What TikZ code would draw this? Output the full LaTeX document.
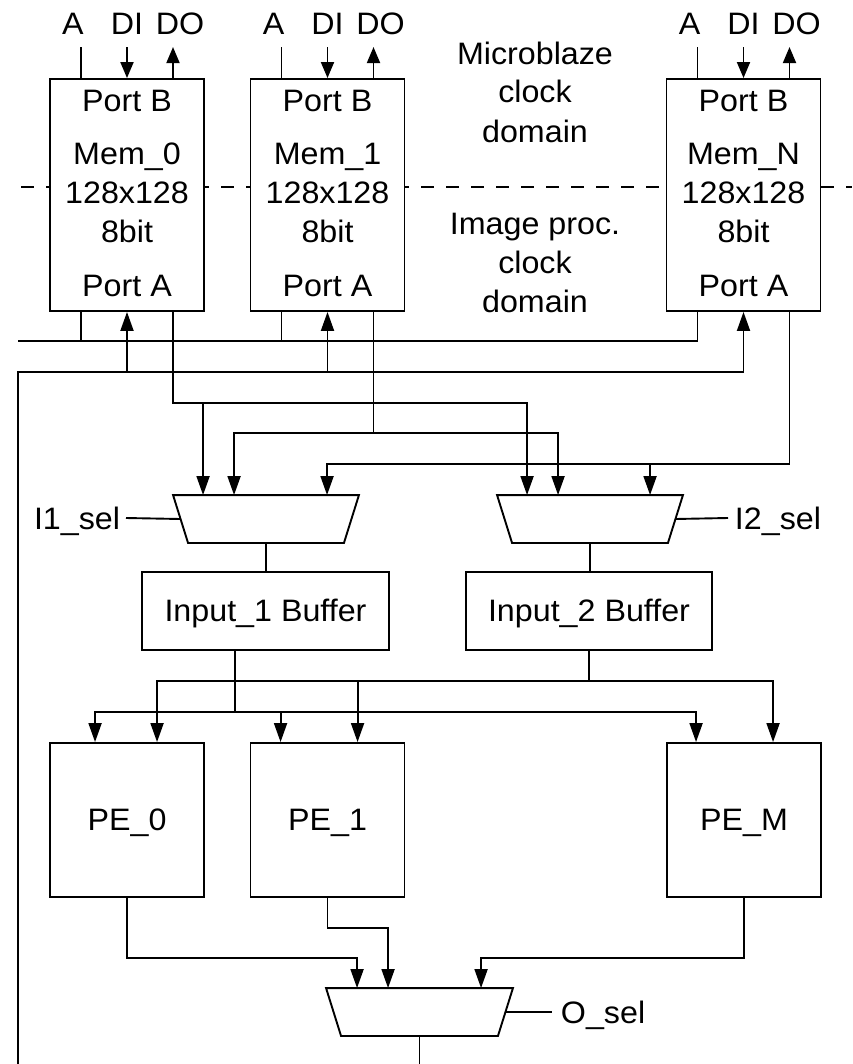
\documentclass[tikz,border=0pt]{standalone}
\usepackage{fontspec}
\setmainfont{Liberation Sans}[FakeStretch=1.04]
\usetikzlibrary{arrows.meta,calc}
\begin{document}
\begin{tikzpicture}[x=1pt,y=-1pt,line width=1.9pt,
  every node/.style={font=\fontsize{31}{37}\selectfont},
  blk/.style={draw,fill=white,inner sep=0pt,line width=1.9pt},
  lbl/.style={inner sep=0pt,anchor=base},
  muxbox/.style={inner sep=0pt,minimum width=184pt,minimum height=46pt},
  arr/.style={-{Triangle[length=19pt,width=13pt]}},
  arrs/.style={-{Triangle[length=16pt,width=13pt]}},
  dashline/.style={dash pattern=on 13pt off 12pt}]
\useasboundingbox (0,0) rectangle (852,1064);

% clock-domain boundary
\coordinate (dashL) at (21,187);
\coordinate (dashR) at (852,187);
\draw[dashline] (dashL) -- (dashR);

% memory blocks
\node[blk,minimum width=154pt,minimum height=232pt] (mem0) at (127,195) {};
\node[blk,minimum width=154pt,minimum height=232pt] (mem1) at (327.5,195) {};
\node[blk,minimum width=154pt,minimum height=232pt] (memN) at (743.5,195) {};

\foreach \m/\t in {mem0/Mem\_0, mem1/Mem\_1, memN/Mem\_N} {
  \node[lbl] (\m-pb) at ($(\m.north)+(0,33)$) {Port B};
  \node[lbl] (\m-name) at ($(\m.north)+(0,86)$) {\t};
  \node[lbl] (\m-size) at ($(\m.north)+(0,125)$) {128x128};
  \node[lbl] (\m-bits) at ($(\m.north)+(0,164)$) {8bit};
  \node[lbl] (\m-pa) at ($(\m.north)+(0,218)$) {Port A};
  \coordinate (\m-At) at ($(\m.north)+(-46,0)$);
  \coordinate (\m-DIt) at (\m.north);
  \coordinate (\m-DOt) at ($(\m.north)+(46,0)$);
  \coordinate (\m-Ab) at ($(\m.south)+(-46,0)$);
  \coordinate (\m-DIb) at (\m.south);
  \coordinate (\m-DOb) at ($(\m.south)+(46,0)$);
  \coordinate (\m-Ae) at ($(\m-At)+(0,-31)$);
  \coordinate (\m-DIe) at ($(\m-DIt)+(0,-31)$);
  \coordinate (\m-DOe) at ($(\m-DOt)+(0,-31)$);
  \node[lbl] (\m-lA) at ($(\m-At)+(-8,-44)$) {A};
  \node[lbl] (\m-lDI) at ($(\m-DIt)+(0,-44)$) {DI};
  \node[lbl] (\m-lDO) at ($(\m-DOt)+(7,-44)$) {DO};
  \draw (\m-Ae) -- (\m-At);
  \draw[arrs] (\m-DIe) -- (\m-DIt);
  \draw[arrs] (\m-DOt) -- (\m-DOe);
}

% domain labels
\node[lbl] (mb1) at (535,65) {Microblaze};
\node[lbl] (mb2) at (535,103) {clock};
\node[lbl] (mb3) at (535,143) {domain};
\node[lbl] (ip1) at (535,235) {Image proc.};
\node[lbl] (ip2) at (535,273) {clock};
\node[lbl] (ip3) at (535,312) {domain};

% bus rails
\coordinate (busA) at (18,341);
\coordinate (busDI) at (18,372);
\coordinate (leftbot) at (18,1064);
\coordinate (y0) at (0,403);
\coordinate (y1) at (0,433);
\coordinate (y2) at (0,464);

\draw (busA) -- (busA -| memN-Ab) -- (memN-Ab);
\draw (mem0-Ab) -- (mem0-Ab |- busA);
\draw (mem1-Ab) -- (mem1-Ab |- busA);
\draw[arr] (leftbot) -- (busDI) -- (busDI -| memN-DIb) -- (memN-DIb);
\draw[arr] (busDI -| mem0-DIb) -- (mem0-DIb);
\draw[arr] (busDI -| mem1-DIb) -- (mem1-DIb);

% input multiplexers
\node[muxbox] (mux1) at (266,519) {};
\node[muxbox] (mux2) at (590,519) {};
\draw (mux1.north west) -- (mux1.north east) -- ($(mux1.south east)+(-15,0)$) -- ($(mux1.south west)+(15,0)$) -- cycle;
\draw (mux2.north west) -- (mux2.north east) -- ($(mux2.south east)+(-15,0)$) -- ($(mux2.south west)+(15,0)$) -- cycle;
\coordinate (m1a) at ($(mux1.north west)+(30,0)$);
\coordinate (m1b) at ($(mux1.north west)+(61,0)$);
\coordinate (m1c) at ($(mux1.north west)+(154,0)$);
\coordinate (m2a) at ($(mux2.north west)+(30,0)$);
\coordinate (m2b) at ($(mux2.north west)+(61,0)$);
\coordinate (m2c) at ($(mux2.north west)+(153,0)$);

% memory outputs to multiplexers
\draw[arr] (mem0-DOb) |- (m2a |- y0) -- (m2a);
\draw[arr] (m1a |- y0) -- (m1a);
\draw[arr] (mem1-DOb) |- (m2b |- y1) -- (m2b);
\draw[arr] (mem1-DOb |- y1) -| (m1b);
\draw[arr] (memN-DOb) |- (m1c |- y2) -- (m1c);
\draw[arr] (m2c |- y2) -- (m2c);

% select lines
\coordinate (mux1L) at ($(mux1.west)+(7.5,0)$);
\coordinate (mux2R) at ($(mux2.east)+(-7.5,0)$);
\coordinate (i1selE) at (126,518);
\coordinate (i2selW) at (728,518);
\node[inner sep=0pt,anchor=base east] (i1sel) at ($(i1selE)+(-5,11)$) {I1\_sel};
\node[inner sep=0pt,anchor=base west] (i2sel) at ($(i2selW)+(6,11)$) {I2\_sel};
\draw (i1selE) -- (mux1L);
\draw (mux2R) -- (i2selW);

% input buffers
\node[blk,minimum width=247pt,minimum height=78pt] (buf1) at (265.5,611) {};
\node[blk,minimum width=246pt,minimum height=78pt] (buf2) at (589,611) {};
\node[lbl] (buf1t) at ($(buf1.center)+(0,10)$) {Input\_1 Buffer};
\node[lbl] (buf2t) at ($(buf2.center)+(0,10)$) {Input\_2 Buffer};
\draw (mux1.south) -- (mux1.south |- buf1.north);
\draw (mux2.south) -- (mux2.south |- buf2.north);

% processing elements
\node[blk,minimum width=154pt,minimum height=154pt] (pe0) at (127,820) {};
\node[blk,minimum width=154pt,minimum height=154pt] (pe1) at (327.5,820) {};
\node[blk,minimum width=154pt,minimum height=154pt] (peM) at (744,820) {};
\node[lbl] (pe0t) at ($(pe0.center)+(0,10)$) {PE\_0};
\node[lbl] (pe1t) at ($(pe1.center)+(0,10)$) {PE\_1};
\node[lbl] (peMt) at ($(peM.center)+(0,10)$) {PE\_M};

\coordinate (p0a) at ($(pe0.north west)+(46,0)$);
\coordinate (p0b) at ($(pe0.north west)+(108,0)$);
\coordinate (p1a) at ($(pe1.north west)+(31,0)$);
\coordinate (p1b) at ($(pe1.north west)+(108,0)$);
\coordinate (pMa) at ($(peM.north west)+(30,0)$);
\coordinate (pMb) at ($(peM.north west)+(107,0)$);
\coordinate (b1o) at ($(buf1.south)+(-30.5,0)$);
\coordinate (yb1) at (0,712);
\coordinate (yb2) at (0,681);

\draw[arr] (b1o) |- (p0a |- yb1) -- (p0a);
\draw[arr] (b1o |- yb1) -| (pMa);
\draw[arr] (p1a |- yb1) -- (p1a);
\draw[arr] (buf2.south) |- (p0b |- yb2) -- (p0b);
\draw[arr] (buf2.south |- yb2) -| (pMb);
\draw[arr] (p1b |- yb2) -- (p1b);

% output multiplexer
\node[inner sep=0pt,minimum width=185pt,minimum height=46pt] (muxo) at (419.5,1012) {};
\draw (muxo.north west) -- (muxo.north east) -- ($(muxo.south east)+(-15,0)$) -- ($(muxo.south west)+(15,0)$) -- cycle;
\coordinate (oa) at ($(muxo.north west)+(31,0)$);
\coordinate (ob) at ($(muxo.north west)+(62,0)$);
\coordinate (oc) at ($(muxo.north west)+(155,0)$);
\coordinate (yo1) at (0,958);
\coordinate (yo2) at (0,928);
\draw[arr] (pe0.south) |- (oa |- yo1) -- (oa);
\draw[arr] (pe1.south) |- (ob |- yo2) -- (ob);
\draw[arr] (peM.south) |- (oc |- yo1) -- (oc);
\draw (muxo.south) -- (muxo.south |- leftbot);

\coordinate (muxoR) at ($(muxo.east)+(-7.5,0)$);
\coordinate (oselW) at (552,1012);
\node[inner sep=0pt,anchor=base west] (osel) at ($(oselW)+(8,11)$) {O\_sel};
\draw (muxoR) -- (oselW);
\end{tikzpicture}
\end{document}
